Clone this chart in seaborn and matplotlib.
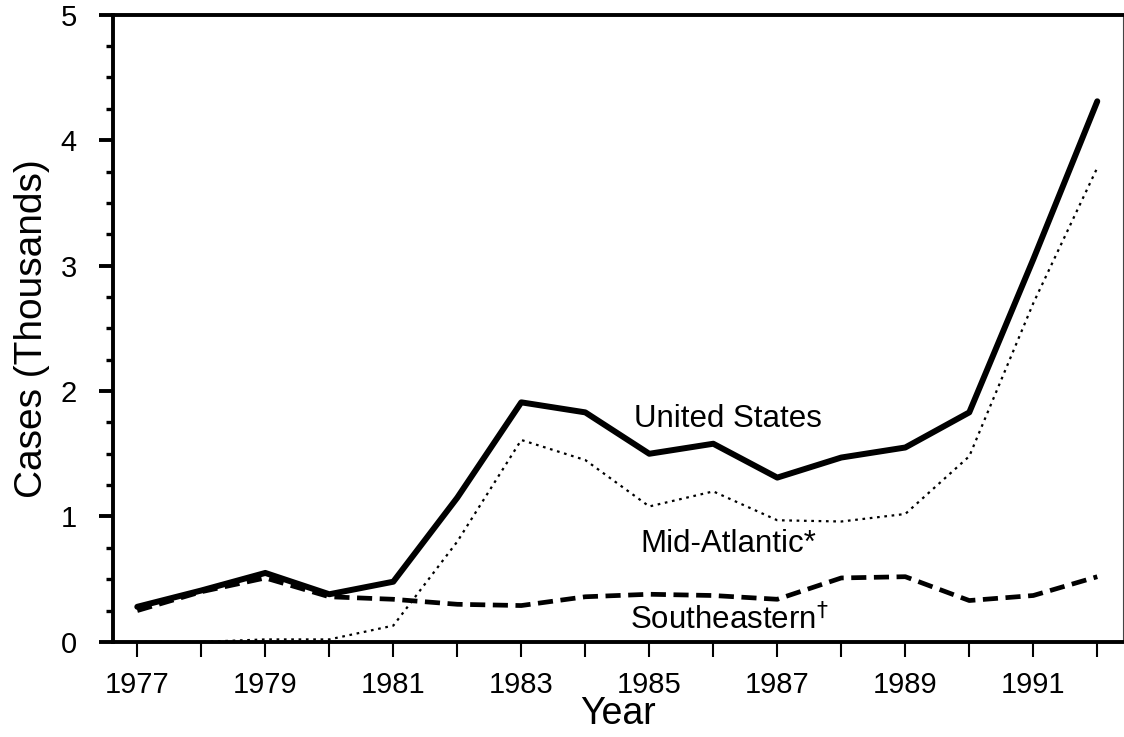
import matplotlib
matplotlib.use('Agg')
import matplotlib.pyplot as plt
from matplotlib.ticker import MultipleLocator
import pandas as pd
import seaborn as sns

# --------------------------
# Data (cases in thousands)
# --------------------------
years = list(range(1977, 1993))
united_states = [0.28, 0.41, 0.55, 0.38, 0.48, 1.15, 1.91, 1.83, 1.50, 1.58, 1.31, 1.47, 1.55, 1.83, 3.05, 4.31]
mid_atlantic = [0.0, 0.0, 0.02, 0.02, 0.13, 0.80, 1.61, 1.45, 1.08, 1.20, 0.97, 0.96, 1.02, 1.48, 2.70, 3.78]
southeastern = [0.25, 0.40, 0.51, 0.36, 0.34, 0.30, 0.29, 0.36, 0.38, 0.37, 0.34, 0.51, 0.52, 0.33, 0.37, 0.52]
x_tick_labels = [str(y) if y % 2 == 1 else '' for y in years]

df = pd.DataFrame({'Year': years, 'US': united_states, 'MA': mid_atlantic, 'SE': southeastern})

sns.set_style('white')
plt.rcParams['font.family'] = ['Liberation Sans', 'DejaVu Sans']
plt.rcParams['text.color'] = 'black'
plt.rcParams['axes.labelcolor'] = 'black'
plt.rcParams['xtick.color'] = 'black'
plt.rcParams['ytick.color'] = 'black'

fig = plt.figure(figsize=(11.24, 7.37), dpi=100)
ax = fig.add_axes([0.1005, 0.129, 0.8985, 0.851])

# --------------------------
# Lines
# --------------------------
sns.lineplot(data=df, x='Year', y='US', ax=ax, color='black', linewidth=4.3)
sns.lineplot(data=df, x='Year', y='MA', ax=ax, color='black', linewidth=1.6, linestyle=(0, (1.2, 2.1)))
sns.lineplot(data=df, x='Year', y='SE', ax=ax, color='black', linewidth=3.4, linestyle=(0, (3.2, 1.6)))

ax.set_xlim(1976.62, 1992.4)
ax.set_ylim(0, 5)
ax.set_xticks(years)
ax.set_xticklabels(x_tick_labels)
ax.yaxis.set_major_locator(MultipleLocator(1))
ax.yaxis.set_minor_locator(MultipleLocator(0.25))

ax.tick_params(axis='x', which='major', direction='out', length=11, width=1.5,
               labelsize=21, pad=10, bottom=True)
ax.tick_params(axis='y', which='major', direction='out', length=10, width=2.8,
               labelsize=21, pad=16, left=True)
ax.tick_params(axis='y', which='minor', direction='out', length=5, width=2.4, left=True)

for side in ['left', 'top', 'bottom']:
    ax.spines[side].set_linewidth(2.8)
    ax.spines[side].set_color('black')
ax.spines['right'].set_linewidth(0.8)
ax.spines['right'].set_color('#444444')

ax.set_xlabel('Year', fontsize=27)
ax.set_ylabel('Cases (Thousands)', fontsize=28)
ax.xaxis.set_label_coords(0.5, -0.086)
ax.yaxis.set_label_coords(-0.0624, 0.5)

# --------------------------
# Series labels
# --------------------------
ax.text(1986.23, 1.715, 'United States', fontsize=22.5, ha='center', va='baseline')
ax.text(1986.23, 0.718, 'Mid-Atlantic*', fontsize=22.5, ha='center', va='baseline')
ax.text(1986.25, 0.096, r'Southeastern$^{\dagger}$', fontsize=22.5, ha='center', va='baseline')

fig.savefig('out.png', dpi=100)
plt.close(fig)
